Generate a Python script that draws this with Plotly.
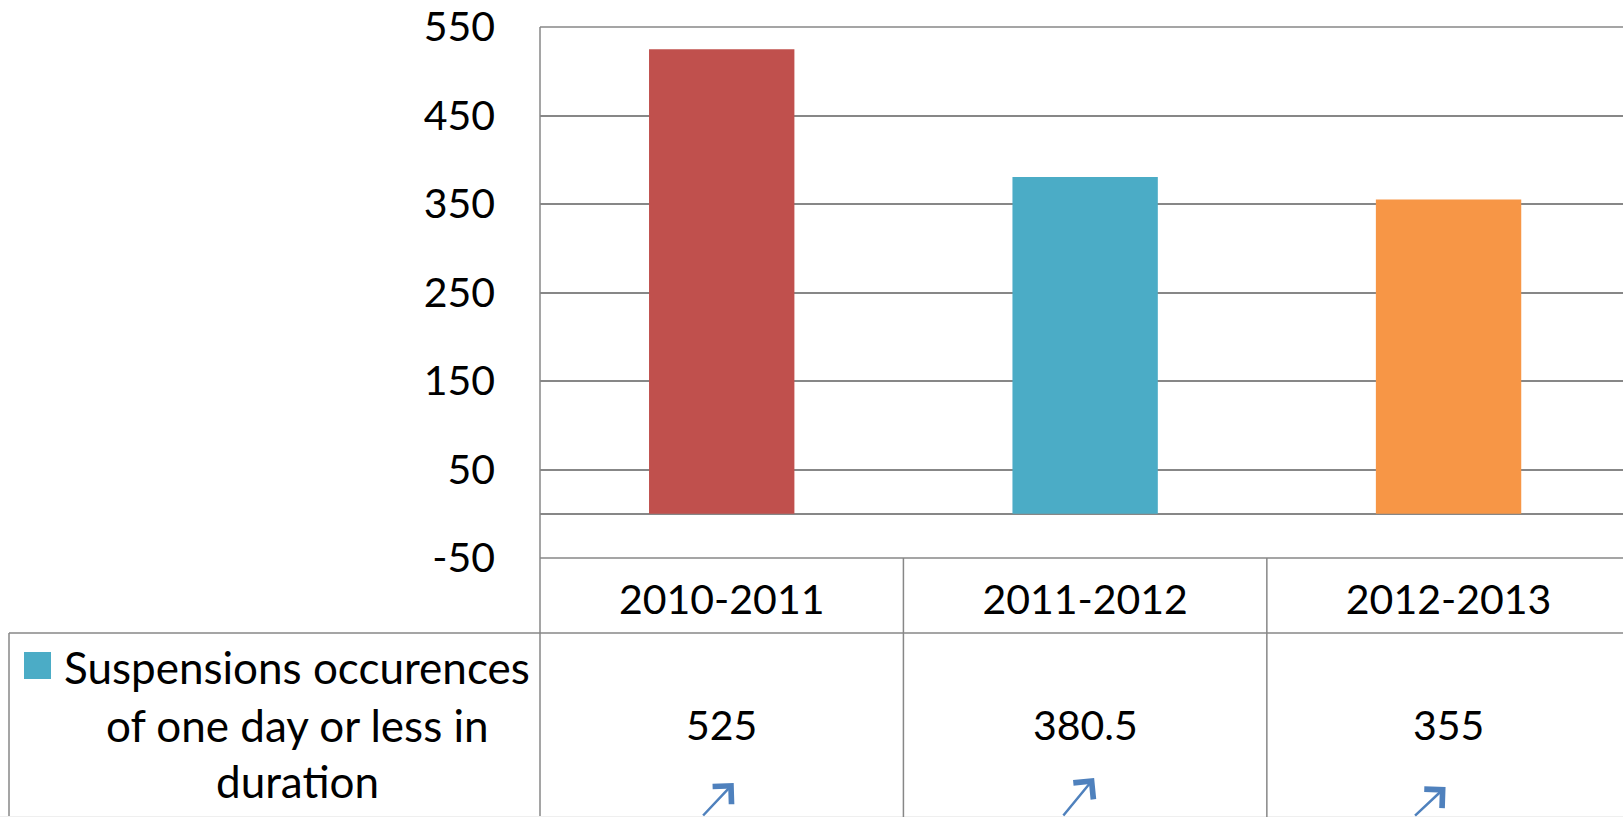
import plotly.graph_objects as go

# ---- data ----
categories = ["2010-2011", "2011-2012", "2012-2013"]
values = [525, 380.5, 355]
value_labels = ["525", "380.5", "355"]
bar_colors = ["#C0504D", "#4BACC6", "#F79646"]
series_name = "Suspensions occurences of one day or less in duration"
legend_lines = ["Suspensions occurences", "of one day or less in", "duration"]
y_ticks = [-50, 50, 150, 250, 350, 450, 550]

# ---- geometry ----
FIG_W, FIG_H = 1623, 817
L, R, T, B = 540, 1623, 27, 558
PW, PH = R - L, B - T
GRID = "#878787"
FONT = "Lato"


def px(x):
    return (x - L) / PW


def py(y):
    return (B - y) / PH


fig = go.Figure()
fig.add_trace(go.Bar(
    x=categories, y=values, marker=dict(color=bar_colors, line=dict(width=0)),
    width=0.40, name=series_name, showlegend=False,
))

fig.update_layout(
    width=FIG_W, height=FIG_H,
    margin=dict(l=L, r=FIG_W - R, t=T, b=FIG_H - B, pad=0),
    plot_bgcolor="white", paper_bgcolor="white",
    font=dict(family=FONT, color="black", size=41),
    showlegend=False,
)
fig.update_yaxes(
    range=[-50, 550], tickvals=y_ticks, ticktext=[str(v) for v in y_ticks],
    showgrid=True, gridcolor=GRID, gridwidth=1.5,
    zeroline=True, zerolinecolor=GRID, zerolinewidth=1.5,
    showline=False, ticks="", ticklabelstandoff=44,
    tickfont=dict(family=FONT, size=41, color="black"),
)
fig.update_xaxes(
    range=[-0.5, 2.48], showgrid=False, zeroline=False, showline=False,
    ticks="", ticklabelstandoff=14,
    tickfont=dict(family=FONT, size=41, color="black"),
)

line = dict(color=GRID, width=1.5)
# plot frame: top, bottom (-50 line) and left
fig.add_shape(type="line", xref="paper", yref="paper", x0=0, x1=1.01, y0=1, y1=1, line=line)
fig.add_shape(type="line", xref="paper", yref="paper", x0=0, x1=1.01, y0=0, y1=0, line=line)
fig.add_shape(type="line", xref="paper", yref="paper", x0=0, x1=0, y0=1, y1=py(FIG_H + 5), line=line)
# table horizontal separator
fig.add_shape(type="line", xref="paper", yref="paper", x0=px(9), x1=1.01, y0=py(633), y1=py(633), line=line)
# table left edge
fig.add_shape(type="line", xref="paper", yref="paper", x0=px(9), x1=px(9), y0=py(633), y1=py(FIG_H + 5), line=line)
# faint bottom line
fig.add_shape(type="line", xref="paper", yref="paper", x0=px(0), x1=1.01, y0=py(816.5), y1=py(816.5),
              line=dict(color="#EFEFEF", width=1))
# category column separators
for i in range(1, len(categories)):
    fig.add_shape(type="line", xref="x", yref="paper", x0=i - 0.5, x1=i - 0.5,
                  y0=0, y1=py(FIG_H + 5), line=line)

# values row
for i, lab in enumerate(value_labels):
    fig.add_annotation(x=categories[i], y=py(724), xref="x", yref="paper", text=lab,
                       showarrow=False, font=dict(family=FONT, size=41, color="black"),
                       xanchor="center", yanchor="middle")

# legend key text + swatch
for txt, yc in zip(legend_lines, [667, 725, 781]):
    fig.add_annotation(x=px(297), y=py(yc), xref="paper", yref="paper", text=txt,
                       showarrow=False, font=dict(family=FONT, size=44, color="black"),
                       xanchor="center", yanchor="middle")
fig.add_shape(type="rect", xref="paper", yref="paper", x0=px(24), x1=px(51),
              y0=py(679), y1=py(652), fillcolor=bar_colors[1], line=dict(width=0))

# small blue arrows (decoration)
arrow_tips = [(12, 783), (9, 778), (-3, 787)]
for i, (dx, ty) in enumerate(arrow_tips):
    fig.add_annotation(x=categories[i], y=py(ty), xref="x", yref="paper", xshift=dx,
                       text="", showarrow=True, arrowhead=4, arrowsize=2.0, arrowwidth=2.5,
                       arrowcolor="#4F81BD", ax=-32, ay=42, standoff=0)

fig.write_html("out.html", config={"displayModeBar": False},
               post_script="document.body.style.margin='0';")
